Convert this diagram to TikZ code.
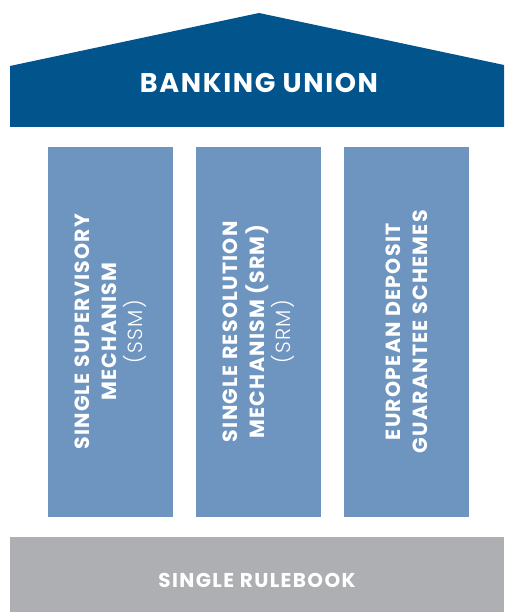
\documentclass[tikz,border=0pt]{standalone}
\usepackage{fontspec}
\setmainfont{Poppins}[UprightFont=* Bold,LetterSpace=6]
\newfontfamily\lightfont{Poppins Light}[LetterSpace=6]
\definecolor{roofblue}{HTML}{02548C}
\definecolor{pillarblue}{HTML}{6E94C0}
\definecolor{basegray}{HTML}{AEAFB2}
\begin{document}
\begin{tikzpicture}[x=1pt,y=1pt,
  pillar/.style={fill=pillarblue,draw=none,minimum width=125pt,minimum height=370pt,inner sep=0pt,anchor=south west},
  ptext/.style={text=white,rotate=90,align=center,font=\fontsize{20.5}{26.5}\selectfont},
  ]
\useasboundingbox (0,0) rectangle (504,612);
\fill[roofblue] (10,546) -- (259,599) -- (504,547) -- (504,485) -- (10,485) -- cycle;
\node[text=white,font=\fontsize{27}{30}\selectfont] (bu) at (259,529.5) {BANKING UNION};
\node[pillar] (p1) at (48,95) {};
\node[pillar] (p2) at (196,95) {};
\node[pillar] (p3) at (344,95) {};
\node[fill=basegray,draw=none,minimum width=494pt,minimum height=75pt,inner sep=0pt,anchor=south west] (base) at (10,0) {};
\node[ptext] (t1) at (p1.center) {SINGLE SUPERVISORY\\MECHANISM\\{\lightfont (SSM)}};
\node[ptext] (t2) at (p2.center) {SINGLE RESOLUTION\\MECHANISM (SRM)\\{\lightfont (SRM)}};
\node[ptext] (t3) at (p3.center) {EUROPEAN DEPOSIT\\GUARANTEE SCHEMES};
\node[text=white,font=\fontsize{20}{22}\selectfont\addfontfeatures{LetterSpace=7}] (sr) at (257,32) {SINGLE RULEBOOK};
\end{tikzpicture}
\end{document}
